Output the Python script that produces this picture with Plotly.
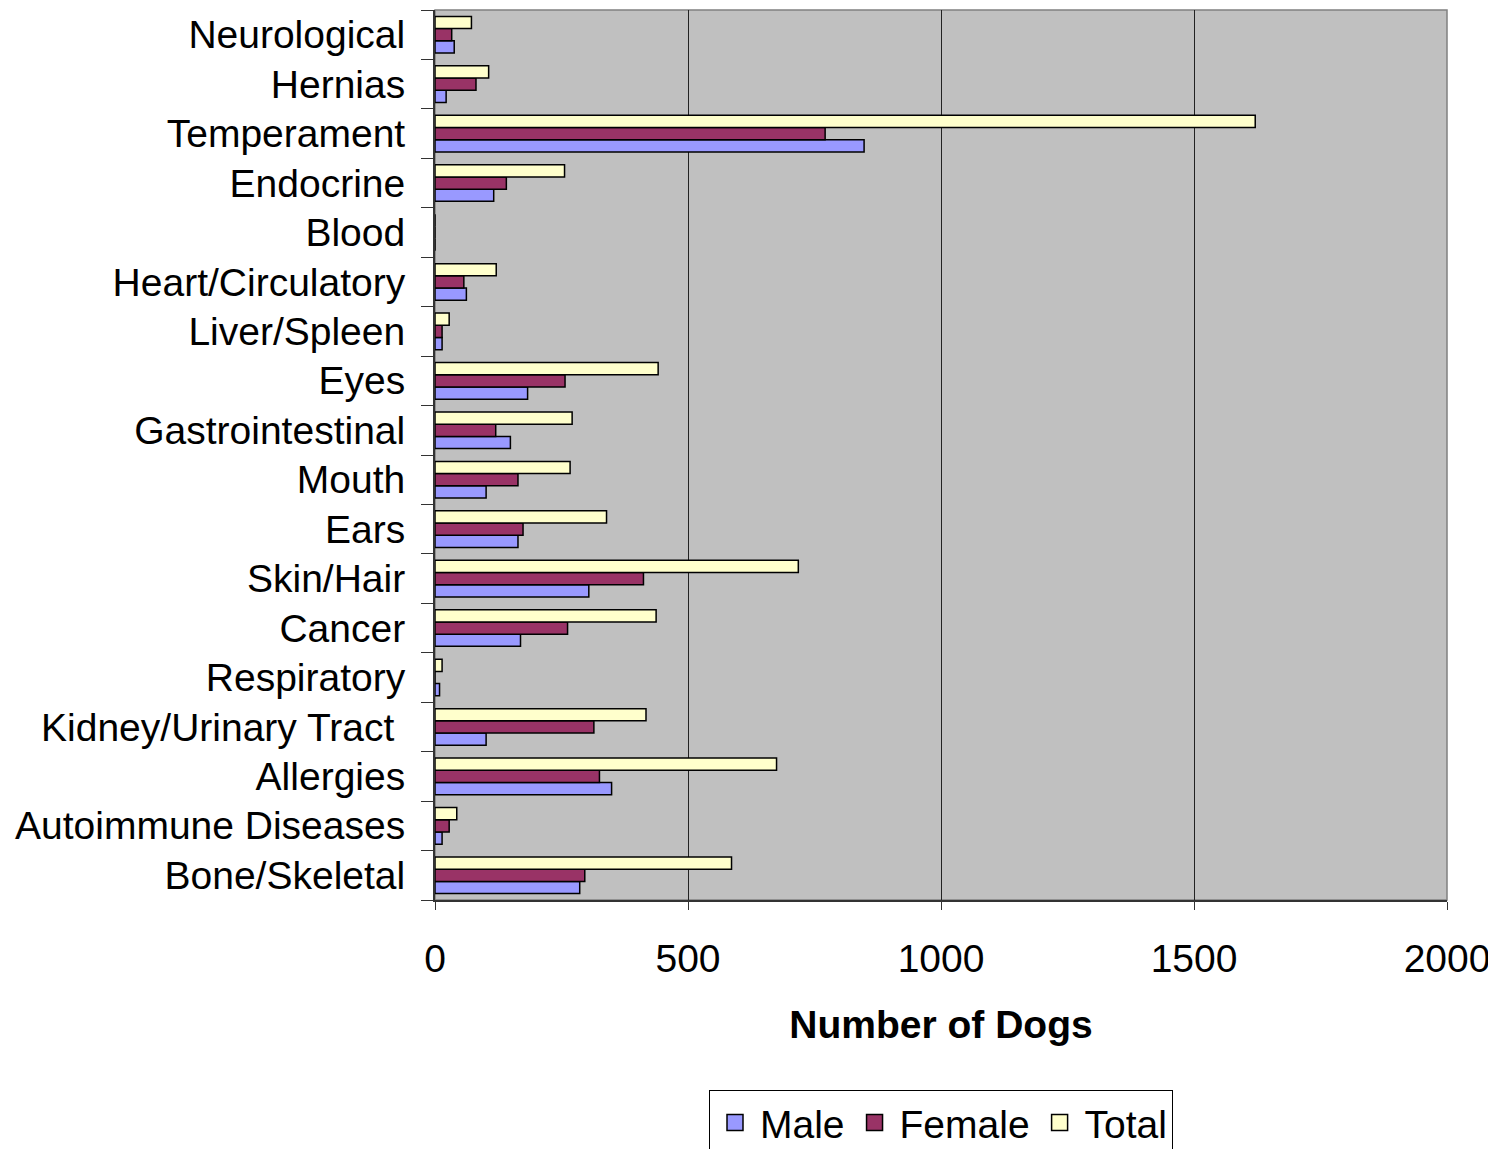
import plotly.graph_objects as go

categories = ["Bone/Skeletal", "Autoimmune Diseases", "Allergies", "Kidney/Urinary Tract\u00a0",
              "Respiratory", "Cancer", "Skin/Hair", "Ears", "Mouth", "Gastrointestinal",
              "Eyes", "Liver/Spleen", "Heart/Circulatory", "Blood", "Endocrine",
              "Temperament", "Hernias", "Neurological"]
male =   [286, 14, 349, 101, 9, 169, 304, 164, 101, 149, 183, 14, 62, 0, 116, 848, 22, 38]
female = [296, 28, 325, 314, 0, 262, 412, 174, 164, 120, 257, 14, 57, 0, 141, 771, 81, 33]
total =  [586, 43, 675, 417, 14, 437, 718, 339, 267, 271, 441, 28, 121, 0, 256, 1621, 106, 72]
series_names = ["Male", "Female", "Total"]
series_colors = ["#9999FF", "#993366", "#FFFFCC"]
x_ticks = [0, 500, 1000, 1500, 2000]

FONT = "Liberation Sans, Arial, sans-serif"
line = dict(color="black", width=1.5)

fig = go.Figure()
for name, vals, col in zip(series_names, [male, female, total], series_colors):
    fig.add_trace(go.Bar(y=categories, x=vals, name=name, orientation="h",
                         marker=dict(color=col, line=line), showlegend=False))
for name, col in zip(series_names, series_colors):
    fig.add_trace(go.Scatter(x=[None], y=[None], mode="markers", name=name,
                             marker=dict(symbol="square", size=22, color=col,
                                         line=dict(color="black", width=1.5))))

fig.update_layout(
    width=1488, height=1141,
    margin=dict(l=427, r=49, t=2, b=249, autoexpand=False),
    paper_bgcolor="white", plot_bgcolor="#C0C0C0",
    barmode="group", bargap=0.26, bargroupgap=0,
    font=dict(family=FONT, size=39, color="black"),
    showlegend=True,
    legend=dict(orientation="h", x=0.5, xanchor="center", y=0.052, yanchor="top",
                yref="container",
                bordercolor="black", borderwidth=1, font=dict(size=39),
                traceorder="normal", itemwidth=40, itemsizing="trace"),
    shapes=[dict(type="rect", xref="paper", yref="paper", x0=0, x1=1, y0=0, y1=1,
                 line=dict(color="#808080", width=1.5), layer="below")],
)
fig.update_xaxes(range=[0, 2000], tickvals=x_ticks, ticktext=[str(v) for v in x_ticks],
                 showgrid=True, gridcolor="#222222", gridwidth=1,
                 showline=True, linecolor="#333333", linewidth=2,
                 ticks="outside", ticklen=8, tickcolor="#333333",
                 ticklabelstandoff=15, zeroline=False,
                 title=dict(text="<b>Number of Dogs</b>", font=dict(size=39), standoff=32),
                 tickfont=dict(size=39))
fig.update_yaxes(range=[-0.5, len(categories) - 0.5],
                 showline=True, linecolor="#333333", linewidth=2,
                 ticks="outside", ticklen=12, tickcolor="#333333",
                 tickson="boundaries", showgrid=False,
                 ticklabelstandoff=20, tickfont=dict(size=39))

fig.write_html("out.html")
